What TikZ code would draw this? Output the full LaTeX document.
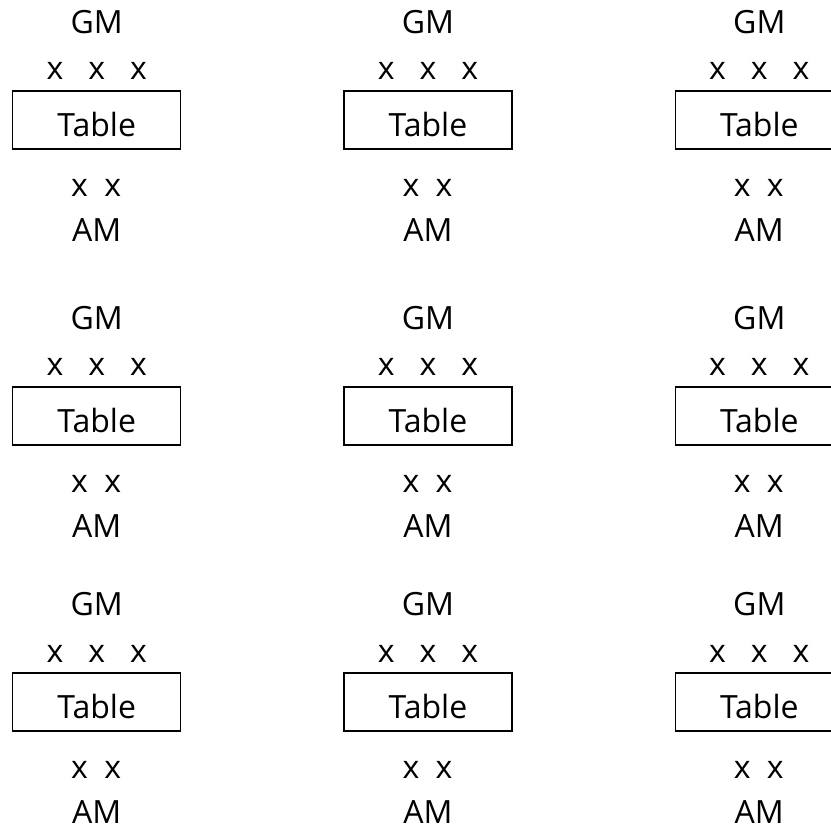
\documentclass[tikz,border=0pt]{standalone}
\usepackage{fontspec}
\setmainfont{Open Sans}
\begin{document}
\begin{tikzpicture}[x=1pt,y=-1pt,
  lbl/.style={anchor=base, inner sep=0pt, font=\fontsize{32}{38}\selectfont},
  tablebox/.style={draw, line width=1.3pt, minimum width=168pt, minimum height=58pt, inner sep=0pt}]
\useasboundingbox (0,0) rectangle (831,829);
% one seating group: GM above, three x, the table, two x, AM below
\foreach \cx [count=\c] in {96.7,428,759.3}{
  \foreach \ty [count=\r] in {91,387,673}{
    \node[tablebox] (tb-\c-\r) at (\cx,\ty+29) {};
    \node[lbl] (tbl-\c-\r) at ([yshift=-16.7pt]tb-\c-\r.center) {Table};
    \node[lbl] (gm-\c-\r) at (\cx,\ty-57.7) {GM};
    \node[lbl] (top-\c-\r) at (\cx,\ty-11) {x\hspace{25pt}x\hspace{25pt}x};
    \node[lbl] (bot-\c-\r) at (\cx-0.5,\ty+105.7) {x\hspace{16.4pt}x};
    \node[lbl] (am-\c-\r) at (\cx,\ty+150.7) {AM};
  }
}
\end{tikzpicture}
\end{document}
